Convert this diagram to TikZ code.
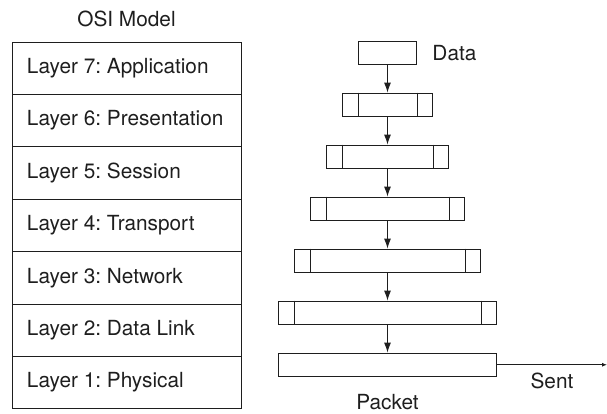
\documentclass[tikz,border=0pt]{standalone}
\usepackage{fontspec}
\setmainfont{TeX Gyre Heros}
\usepackage{tikz}
\usetikzlibrary{positioning,arrows.meta,calc}
\definecolor{inkgray}{RGB}{30, 30, 30}
\frenchspacing

\tikzset{
  layerbox/.style={draw=inkgray, line width=0.9pt, minimum width=229pt, inner xsep=15pt, minimum height=52.4pt},
  pktbox/.style={draw=inkgray, line width=0.9pt, minimum height=23.5pt, inner sep=0pt},
  flow/.style={draw=inkgray, line width=0.9pt, -{Latex[length=10pt,width=7pt]}},
  sendline/.style={draw=inkgray, line width=0.9pt, -{Latex[length=5pt,width=4pt]}}
}

\begin{document}
\begin{tikzpicture}[x=1pt, y=-1pt, font=\fontsize{20.8}{25}\selectfont, text=inkgray]
\useasboundingbox (0,0) rectangle (607,413);
\node (title) at (126.5,19) {OSI Model};
\foreach \n/\name [count=\i from 0] in {7/Application,6/Presentation,5/Session,4/Transport,3/Network,2/Data Link,1/Physical}
    \node[layerbox] (L\n) at (126.5,{68.2+52.4*\i}) {\makebox[199pt][l]{Layer \n: \name}};

\foreach \i in {1,...,7}
    \node[pktbox, minimum width={58+32*min(\i-1,5)}] (B\i) at (387.5,{52.75+52*(\i-1)}) {};
\foreach \i in {2,...,6} {
    \draw[inkgray, line width=0.9pt] ($(B\i.north west)+(16,0)$) -- ($(B\i.south west)+(16,0)$);
    \draw[inkgray, line width=0.9pt] ($(B\i.north east)+(-16,0)$) -- ($(B\i.south east)+(-16,0)$);
}
\foreach \i [evaluate=\i as \j using int(\i+1)] in {1,...,6}
    \draw[flow] (B\i) -- (B\j);

\node[right=12pt of B1] (data) {Data};
\node[below=14pt of B7] (packet) {Packet};
\coordinate (sentend) at (607,364.75);
\draw[sendline] (B7.east) -- (sentend) node[pos=0.5, below=4pt] (sent) {Sent};
\end{tikzpicture}
\end{document}
